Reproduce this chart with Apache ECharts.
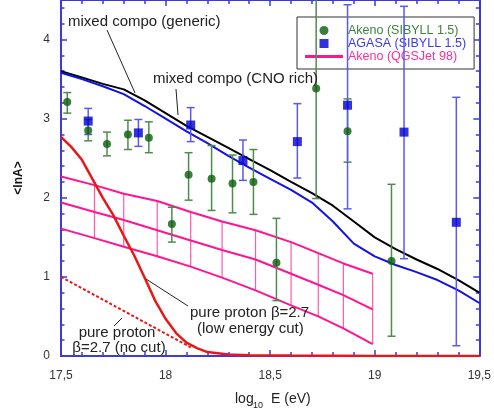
<!DOCTYPE html>
<html lang="en">
<head>
<meta charset="UTF-8">
<title>&lt;lnA&gt; vs log10 E</title>
<style>
  html, body { margin: 0; padding: 0; background: #fff; }
  #main { width: 494px; height: 414px; }
</style>
</head>
<body>
<div id="main"></div>
<script src="https://cdn.jsdelivr.net/npm/echarts@6/dist/echarts.min.js"></script>
<script>
// Akeno (SIBYLL 1.5): energy, <lnA>, error bar low / high
var akenoE   = [17.53, 17.63, 17.72, 17.82, 17.92, 18.03, 18.11, 18.22, 18.32, 18.42, 18.53, 18.72, 18.87, 19.08];
var akenoLnA = [3.21, 2.85, 2.68, 2.80, 2.76, 1.67, 2.29, 2.24, 2.18, 2.20, 1.18, 3.38, 2.84, 1.20];
var akenoLo  = [3.07, 2.72, 2.53, 2.61, 2.57, 1.44, 1.97, 1.84, 1.81, 1.79, 0.70, 1.99, 2.45, 0.25];
var akenoHi  = [3.33, 2.99, 2.83, 2.98, 2.96, 1.88, 2.57, 2.66, 2.54, 2.61, 1.74, 4.70, 3.25, 2.17];

// AGASA (SIBYLL 1.5)
var agasaE   = [17.63, 17.87, 18.12, 18.37, 18.63, 18.87, 19.14, 19.39];
var agasaLnA = [2.97, 2.82, 2.92, 2.47, 2.71, 3.17, 2.83, 1.69];
var agasaLo  = [2.80, 2.65, 2.71, 2.22, 2.25, 1.86, 1.23, 0.13];
var agasaHi  = [3.13, 2.99, 3.14, 2.73, 3.19, 4.44, 4.42, 3.27];

// model curves
var curveE     = [17.5, 17.6, 17.7, 17.8, 17.9, 18.0, 18.1, 18.2, 18.3, 18.4, 18.5, 18.6, 18.7, 18.8, 18.9, 19.0, 19.1, 19.2, 19.3, 19.4, 19.5];
var genericLnA = [3.60, 3.52, 3.44, 3.37, 3.23, 3.07, 2.91, 2.77, 2.63, 2.49, 2.35, 2.20, 2.06, 1.90, 1.70, 1.50, 1.35, 1.22, 1.10, 0.96, 0.80];
var cnoLnA     = [3.58, 3.50, 3.41, 3.31, 3.16, 3.00, 2.84, 2.69, 2.53, 2.38, 2.24, 2.10, 1.94, 1.70, 1.42, 1.26, 1.15, 1.06, 0.96, 0.83, 0.67];

// Akeno (QGSJet 98) band
var bandE   = [17.5, 17.66, 17.80, 17.96, 18.12, 18.27, 18.43, 18.60, 18.73, 18.85, 18.99];
var bandUp  = [2.27, 2.16, 2.05, 1.96, 1.82, 1.70, 1.59, 1.44, 1.30, 1.17, 1.04];
var bandMid = [1.94, 1.82, 1.72, 1.59, 1.46, 1.34, 1.22, 1.04, 0.90, 0.77, 0.59];
var bandLo  = [1.61, 1.49, 1.38, 1.26, 1.13, 0.99, 0.83, 0.64, 0.50, 0.35, 0.15];

// pure proton beta=2.7
var protonE   = [17.5, 17.55, 17.6, 17.65, 17.7, 17.75, 17.8, 17.85, 17.9, 17.95, 18.0, 18.05, 18.1, 18.15, 18.2, 18.3, 18.4, 18.6, 19.0, 19.5];
var protonCut = [2.77, 2.64, 2.48, 2.24, 2.00, 1.78, 1.52, 1.27, 0.99, 0.70, 0.47, 0.29, 0.17, 0.10, 0.05, 0.02, 0.01, 0.005, 0, 0];
var noCutE    = [17.5, 18.12];
var noCutLnA  = [1.0, 0.11];

function pairs(xs, ys) {
	return xs.map(function (x, i) { return [x, ys[i]]; });
}

function errorBars(color, cap) {
	return function (params, api) {
		var x = api.value(0);
		var lo = api.coord([x, api.value(1)]);
		var hi = api.coord([x, api.value(2)]);
		var st = { stroke: color, lineWidth: 1.5 };
		return {
			type: 'group',
			children: [
				{ type: 'line', shape: { x1: lo[0], y1: lo[1], x2: hi[0], y2: hi[1] }, style: st },
				{ type: 'line', shape: { x1: lo[0] - cap, y1: lo[1], x2: lo[0] + cap, y2: lo[1] }, style: st },
				{ type: 'line', shape: { x1: hi[0] - cap, y1: hi[1], x2: hi[0] + cap, y2: hi[1] }, style: st }
			]
		};
	};
}

function hatch(params, api) {
	var x = api.value(0);
	var lo = api.coord([x, api.value(1)]);
	var hi = api.coord([x, api.value(2)]);
	return {
		type: 'line',
		shape: { x1: lo[0], y1: lo[1], x2: hi[0], y2: hi[1] },
		style: { stroke: '#ff5aa8', lineWidth: 1.2 }
	};
}

var AXIS = '#3a3ae0';
var FONT = '"Liberation Sans", Arial, sans-serif';

function xAxisCfg(pos, labels) {
	return {
		type: 'value', position: pos, min: 17.5, max: 19.5, interval: 0.5,
		axisLine: { show: true, onZero: false, lineStyle: { color: AXIS, width: 2 } },
		axisTick: { show: true, inside: true, length: 6, lineStyle: { color: AXIS, width: 1.5 } },
		minorTick: { show: true, splitNumber: 5, length: 4, lineStyle: { color: AXIS, width: 1.5 } },
		splitLine: { show: false },
		axisLabel: {
			show: labels, margin: 14, color: '#333', fontSize: 12, fontFamily: FONT,
			formatter: function (v) { return String(v).replace('.', ','); }
		}
	};
}

function yAxisCfg(pos, labels) {
	return {
		type: 'value', position: pos, min: 0, max: 4.5, interval: 1,
		axisLine: { show: true, onZero: false, lineStyle: { color: AXIS, width: 2 } },
		axisTick: { show: true, inside: true, length: 6, lineStyle: { color: AXIS, width: 1.5 } },
		minorTick: { show: true, splitNumber: 5, length: 3.5, lineStyle: { color: AXIS, width: 1.5 } },
		splitLine: { show: false },
		axisLabel: { show: labels, margin: 11, color: '#333', fontSize: 12, fontFamily: FONT, showMaxLabel: false }
	};
}

var chart = echarts.init(document.getElementById('main'));

var yLeft = yAxisCfg('left', true);
yLeft.name = '<lnA>';
yLeft.nameLocation = 'middle';
yLeft.nameRotate = 90;
yLeft.nameGap = 36;
yLeft.nameTextStyle = { fontSize: 12, fontWeight: 'bold', color: '#111', fontFamily: FONT };

function label(x, y, s, align, size) {
	return { type: 'text', x: x, y: y, z: 50,
		style: { text: s, align: align || 'left', verticalAlign: 'middle',
			fill: '#222', fontSize: size || 15, fontFamily: FONT } };
}
function leader(x1, y1, x2, y2) {
	return { type: 'line', z: 50, shape: { x1: x1, y1: y1, x2: x2, y2: y2 },
		style: { stroke: '#222', lineWidth: 1 } };
}

var option = {
	animation: false,
	backgroundColor: '#fff',
	grid: { left: 61, right: 10, top: 0, bottom: 58 },
	xAxis: [xAxisCfg('bottom', true), xAxisCfg('top', false)],
	yAxis: [yLeft, yAxisCfg('right', false)],
	legend: {
		left: 297, top: 17, orient: 'vertical',
		padding: [7, 8, 6, 8], itemGap: 0, itemWidth: 38, itemHeight: 9,
		borderColor: '#333', borderWidth: 1, backgroundColor: '#fff',
		selectedMode: false, symbolKeepAspect: true,
		textStyle: { fontSize: 12.5, fontFamily: FONT, lineHeight: 11 },
		data: [
			{ name: 'Akeno (SIBYLL 1.5)', icon: 'circle', textStyle: { color: '#3f803f' } },
			{ name: 'AGASA (SIBYLL 1.5)', icon: 'path://M0 0H10V10H0Z', textStyle: { color: '#3a3aec' } },
			{ name: 'Akeno (QGSJet 98)', icon: 'path://M0 0H40V3H0Z', textStyle: { color: '#ff2e98' } }
		]
	},
	series: [
		{ name: 'band-hatch', type: 'custom', renderItem: hatch, z: 3,
			data: bandE.slice(1).map(function (e, i) { return [e, bandLo[i + 1], bandUp[i + 1]]; }) },
		{ name: 'band-up', type: 'line', symbol: 'none', z: 4, data: pairs(bandE, bandUp),
			lineStyle: { color: '#ff1493', width: 2 } },
		{ name: 'Akeno (QGSJet 98)', type: 'line', symbol: 'none', z: 4, data: pairs(bandE, bandMid),
			itemStyle: { color: '#ff1493' }, lineStyle: { color: '#ff1493', width: 2 } },
		{ name: 'band-lo', type: 'line', symbol: 'none', z: 4, data: pairs(bandE, bandLo),
			lineStyle: { color: '#ff1493', width: 2 } },
		{ name: 'generic', type: 'line', symbol: 'none', z: 5, data: pairs(curveE, genericLnA),
			lineStyle: { color: '#000', width: 2 } },
		{ name: 'cno', type: 'line', symbol: 'none', z: 5, data: pairs(curveE, cnoLnA),
			lineStyle: { color: '#1212e6', width: 2 } },
		{ name: 'proton-cut', type: 'line', symbol: 'none', z: 6, data: pairs(protonE, protonCut),
			lineStyle: { color: '#e81818', width: 2.5 } },
		{ name: 'proton-nocut', type: 'line', symbol: 'none', z: 6, data: pairs(noCutE, noCutLnA),
			lineStyle: { color: '#e81818', width: 2, type: [3, 2] } },
		{ name: 'akeno-err', type: 'custom', renderItem: errorBars('#4e8c4e', 4), clip: true, z: 7,
			data: akenoE.map(function (e, i) { return [e, akenoLo[i], akenoHi[i]]; }) },
		{ name: 'agasa-err', type: 'custom', renderItem: errorBars('#5a5af0', 4), clip: true, z: 8,
			data: agasaE.map(function (e, i) { return [e, agasaLo[i], agasaHi[i]]; }) },
		{ name: 'AGASA (SIBYLL 1.5)', type: 'scatter', symbol: 'rect', symbolSize: 9, z: 9,
			data: pairs(agasaE, agasaLnA), itemStyle: { color: '#0000d0' } },
		{ name: 'Akeno (SIBYLL 1.5)', type: 'scatter', symbol: 'circle', symbolSize: 8, z: 10,
			data: pairs(akenoE, akenoLnA), itemStyle: { color: '#0b5e0b' } }
	],
	graphic: [
		label(68, 22, 'mixed compo (generic)'),
		leader(107, 30, 135, 93),
		label(153, 79, 'mixed compo (CNO rich)'),
		leader(176, 89, 178, 115),
		label(190, 313, 'pure proton β=2.7'),
		label(197, 329, '(low energy cut)'),
		leader(146, 279, 188, 306),
		label(117, 333, 'pure proton', 'center'),
		label(119, 348, 'β=2.7 (no cut)', 'center'),
		leader(114, 326, 122, 318),
		// x axis title with subscript
		label(235, 399, 'log', 'left', 14),
		label(253, 406, '10', 'left', 9),
		label(271, 399, 'E (eV)', 'left', 14)
	]
};

chart.setOption(option);
</script>
</body>
</html>
